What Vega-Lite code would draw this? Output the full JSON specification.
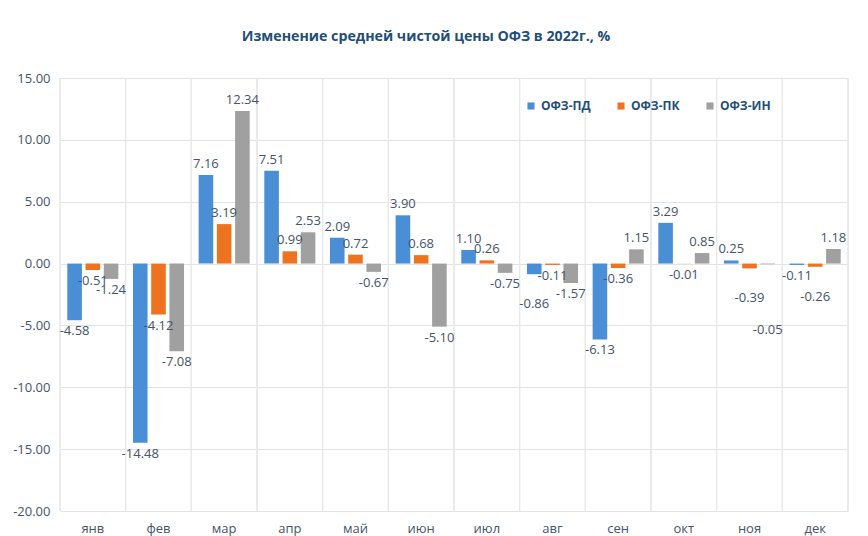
{
  "$schema": "https://vega.github.io/schema/vega-lite/v6.json",
  "width": 788,
  "height": 433,
  "autosize": "none",
  "padding": {"left": 60, "top": 78, "right": 20, "bottom": 25},
  "background": "white",
  "config": {
    "view": {"stroke": null},
    "font": "Open Sans",
    "locale": {"number": {"decimal": ".", "thousands": ",", "grouping": [3], "currency": ["$", ""], "minus": "-"}}
  },
  "title": {
    "text": "Изменение средней чистой цены ОФЗ в 2022г., %",
    "fontSize": 14.2,
    "fontWeight": "bold",
    "color": "#1F4E79",
    "anchor": "middle",
    "dx": -28,
    "offset": 28
  },
  "data": {
    "values": [
      {"m": "янв", "s": "ОФЗ-ПД", "v": -4.58},
      {"m": "янв", "s": "ОФЗ-ПК", "v": -0.51},
      {"m": "янв", "s": "ОФЗ-ИН", "v": -1.24},
      {"m": "фев", "s": "ОФЗ-ПД", "v": -14.48},
      {"m": "фев", "s": "ОФЗ-ПК", "v": -4.12},
      {"m": "фев", "s": "ОФЗ-ИН", "v": -7.08},
      {"m": "мар", "s": "ОФЗ-ПД", "v": 7.16},
      {"m": "мар", "s": "ОФЗ-ПК", "v": 3.19},
      {"m": "мар", "s": "ОФЗ-ИН", "v": 12.34},
      {"m": "апр", "s": "ОФЗ-ПД", "v": 7.51},
      {"m": "апр", "s": "ОФЗ-ПК", "v": 0.99},
      {"m": "апр", "s": "ОФЗ-ИН", "v": 2.53},
      {"m": "май", "s": "ОФЗ-ПД", "v": 2.09},
      {"m": "май", "s": "ОФЗ-ПК", "v": 0.72},
      {"m": "май", "s": "ОФЗ-ИН", "v": -0.67},
      {"m": "июн", "s": "ОФЗ-ПД", "v": 3.90},
      {"m": "июн", "s": "ОФЗ-ПК", "v": 0.68},
      {"m": "июн", "s": "ОФЗ-ИН", "v": -5.10},
      {"m": "июл", "s": "ОФЗ-ПД", "v": 1.10},
      {"m": "июл", "s": "ОФЗ-ПК", "v": 0.26},
      {"m": "июл", "s": "ОФЗ-ИН", "v": -0.75},
      {"m": "авг", "s": "ОФЗ-ПД", "v": -0.86},
      {"m": "авг", "s": "ОФЗ-ПК", "v": -0.11},
      {"m": "авг", "s": "ОФЗ-ИН", "v": -1.57},
      {"m": "сен", "s": "ОФЗ-ПД", "v": -6.13},
      {"m": "сен", "s": "ОФЗ-ПК", "v": -0.36},
      {"m": "сен", "s": "ОФЗ-ИН", "v": 1.15},
      {"m": "окт", "s": "ОФЗ-ПД", "v": 3.29},
      {"m": "окт", "s": "ОФЗ-ПК", "v": -0.01},
      {"m": "окт", "s": "ОФЗ-ИН", "v": 0.85},
      {"m": "ноя", "s": "ОФЗ-ПД", "v": 0.25},
      {"m": "ноя", "s": "ОФЗ-ПК", "v": -0.39},
      {"m": "ноя", "s": "ОФЗ-ИН", "v": -0.05},
      {"m": "дек", "s": "ОФЗ-ПД", "v": -0.11},
      {"m": "дек", "s": "ОФЗ-ПК", "v": -0.26},
      {"m": "дек", "s": "ОФЗ-ИН", "v": 1.18}
    ]
  },
  "encoding": {
    "x": {
      "field": "m", "type": "nominal", "sort": null,
      "scale": {"paddingInner": 0, "paddingOuter": 0},
      "axis": {"title": null, "labelAngle": 0, "domain": false, "ticks": false, "labelColor": "#44546A", "labelFontSize": 13, "labelPadding": 11}
    },
    "y": {
      "field": "v", "type": "quantitative",
      "scale": {"domain": [-20, 15], "nice": false},
      "axis": {"title": null, "values": [-20, -15, -10, -5, 0, 5, 10, 15], "format": ".2f", "domain": false, "ticks": false, "gridColor": "#E3E3E3", "labelColor": "#44546A", "labelFontSize": 13, "labelPadding": 10}
    }
  },
  "layer": [
    {
      "mark": {"type": "rule", "color": "#E8E8E8", "strokeWidth": 1},
      "encoding": {
        "x": {"field": "m", "type": "nominal", "sort": null, "bandPosition": 0},
        "y": {"datum": -20},
        "y2": {"datum": 15}
      }
    },
    {
      "transform": [{"filter": "datum.m == 'дек'"}],
      "mark": {"type": "rule", "color": "#E8E8E8", "strokeWidth": 1},
      "encoding": {
        "x": {"field": "m", "type": "nominal", "sort": null, "bandPosition": 1},
        "y": {"datum": -20},
        "y2": {"datum": 15}
      }
    },
    {
      "mark": {"type": "bar"},
      "encoding": {
        "xOffset": {"field": "s", "type": "nominal", "sort": ["ОФЗ-ПД", "ОФЗ-ПК", "ОФЗ-ИН"], "scale": {"paddingInner": 0.2, "paddingOuter": 0.4}},
        "y2": {"datum": 0},
        "color": {
          "field": "s", "type": "nominal",
          "sort": ["ОФЗ-ПД", "ОФЗ-ПК", "ОФЗ-ИН"],
          "scale": {"domain": ["ОФЗ-ПД", "ОФЗ-ПК", "ОФЗ-ИН"], "range": ["#4A8FD6", "#EE7320", "#A0A0A0"]},
          "legend": {
            "title": null, "orient": "none", "direction": "horizontal",
            "legendX": 465, "legendY": 22,
            "symbolType": "square", "symbolSize": 50,
            "labelFontSize": 12, "labelFontWeight": "bold", "labelColor": "#1F4E79",
            "columnPadding": 24
          }
        }
      }
    },
    {
      "transform": [{"filter": "datum.v >= 0"}],
      "mark": {"type": "text", "baseline": "bottom", "dy": -4, "fontSize": 13, "color": "#44546A"},
      "encoding": {
        "xOffset": {"field": "s", "type": "nominal", "sort": ["ОФЗ-ПД", "ОФЗ-ПК", "ОФЗ-ИН"], "scale": {"paddingInner": 0.2, "paddingOuter": 0.4}},
        "text": {"field": "v", "type": "quantitative", "format": ".2f"}
      }
    },
    {
      "transform": [{"filter": "datum.v < 0 && !((datum.m == 'авг' && datum.s == 'ОФЗ-ПД') || (datum.m == 'ноя' && datum.s != 'ОФЗ-ПД') || (datum.m == 'дек' && datum.s == 'ОФЗ-ПК'))"}],
      "mark": {"type": "text", "baseline": "top", "dy": 5, "fontSize": 13, "color": "#44546A"},
      "encoding": {
        "xOffset": {"field": "s", "type": "nominal", "sort": ["ОФЗ-ПД", "ОФЗ-ПК", "ОФЗ-ИН"], "scale": {"paddingInner": 0.2, "paddingOuter": 0.4}},
        "text": {"field": "v", "type": "quantitative", "format": ".2f"}
      }
    },
    {
      "transform": [{"filter": "(datum.m == 'авг' && datum.s == 'ОФЗ-ПД') || (datum.m == 'ноя' && datum.s == 'ОФЗ-ПК') || (datum.m == 'дек' && datum.s == 'ОФЗ-ПК')"}],
      "mark": {"type": "text", "baseline": "top", "dy": 24, "fontSize": 13, "color": "#44546A"},
      "encoding": {
        "xOffset": {"field": "s", "type": "nominal", "sort": ["ОФЗ-ПД", "ОФЗ-ПК", "ОФЗ-ИН"], "scale": {"paddingInner": 0.2, "paddingOuter": 0.4}},
        "text": {"field": "v", "type": "quantitative", "format": ".2f"}
      }
    },
    {
      "transform": [{"filter": "datum.m == 'ноя' && datum.s == 'ОФЗ-ИН'"}],
      "mark": {"type": "text", "baseline": "top", "dy": 60, "fontSize": 13, "color": "#44546A"},
      "encoding": {
        "xOffset": {"field": "s", "type": "nominal", "sort": ["ОФЗ-ПД", "ОФЗ-ПК", "ОФЗ-ИН"], "scale": {"paddingInner": 0.2, "paddingOuter": 0.4}},
        "text": {"field": "v", "type": "quantitative", "format": ".2f"}
      }
    }
  ]
}
